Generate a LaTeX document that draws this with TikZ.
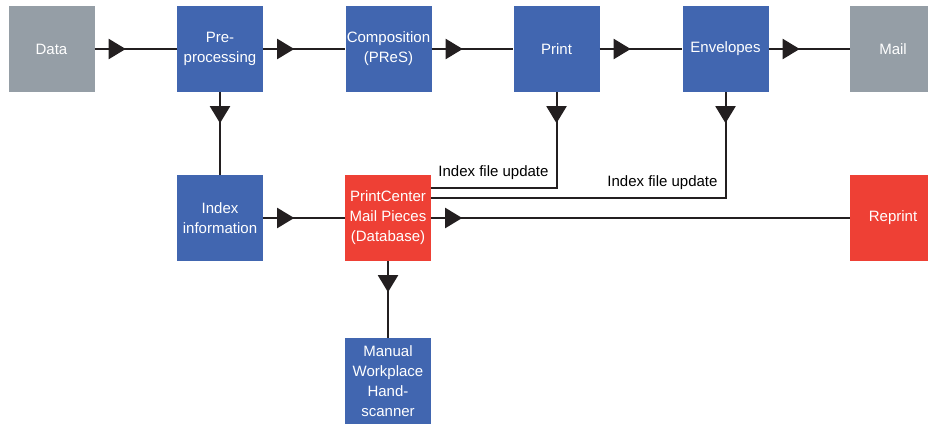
\documentclass[tikz,border=0pt]{standalone}
\usepackage{fontspec}
\setmainfont{Liberation Sans}
\usetikzlibrary{arrows.meta,decorations.markings}

\definecolor{boxblue}{RGB}{65,102,176}
\definecolor{boxgray}{RGB}{149,158,166}
\definecolor{boxred}{RGB}{238,64,53}
\definecolor{linegray}{RGB}{35,31,32}

\begin{document}
\begin{tikzpicture}[x=1pt,y=-1pt,
                    box/.style={minimum width=86pt,minimum height=86pt,inner sep=0pt,
                                align=center,text=white,font=\fontsize{15}{20}\selectfont},
                    stage/.style={box,fill=boxblue},
                    io/.style={box,fill=boxgray},
                    store/.style={box,fill=boxred},
                    flow/.style={line width=2pt,draw=linegray,postaction={decorate},
                                 decoration={markings,
                                   mark=at position 31pt with {\arrow[linegray]{Triangle[length=17pt,width=20pt]}}}},
                    note/.style={font=\fontsize{15}{18}\selectfont,inner sep=7pt}]
  \useasboundingbox (0,0) rectangle (928,423);

  % 主流程
  \node[io]    (data)  at (51.5,49)  {Data};
  \node[stage] (pre)   at (220,49)   {Pre-\\processing};
  \node[stage] (comp)  at (388.5,49) {Composition\\(PReS)};
  \node[stage] (print) at (556.5,49) {Print};
  \node[stage] (env)   at (725.5,49) {Envelopes};
  \node[io]    (mail)  at (893,49)   {Mail};

  % 索引与数据库
  \node[stage] (index)  at (220,218) {Index\\information};
  \node[store] (db)     at (388,218) {PrintCenter\\Mail Pieces\\(Database)};
  \node[store] (reprint) at (893,218) {Reprint};
  \node[stage] (manual) at (388,381) {Manual\\Workplace\\Hand-\\scanner};

  % 连线
  \draw[flow] (data)  -- (pre);
  \draw[flow] (pre)   -- (comp);
  \draw[flow] (comp)  -- (print);
  \draw[flow] (print) -- (env);
  \draw[flow] (env)   -- (mail);
  \draw[flow] (pre)   -- (index);
  \draw[flow] (index) -- (db);
  \draw[flow] (db)    -- (reprint);
  \draw[flow] (db)    -- (manual);

  % 索引文件更新
  \draw[flow] (print) |- node[note,pos=0.5,above left] {Index file update} ([yshift=-13pt]db.north east);
  \draw[flow] (env)   |- node[note,pos=0.5,above left] {Index file update} ([yshift=-23pt]db.north east);
\end{tikzpicture}
\end{document}
